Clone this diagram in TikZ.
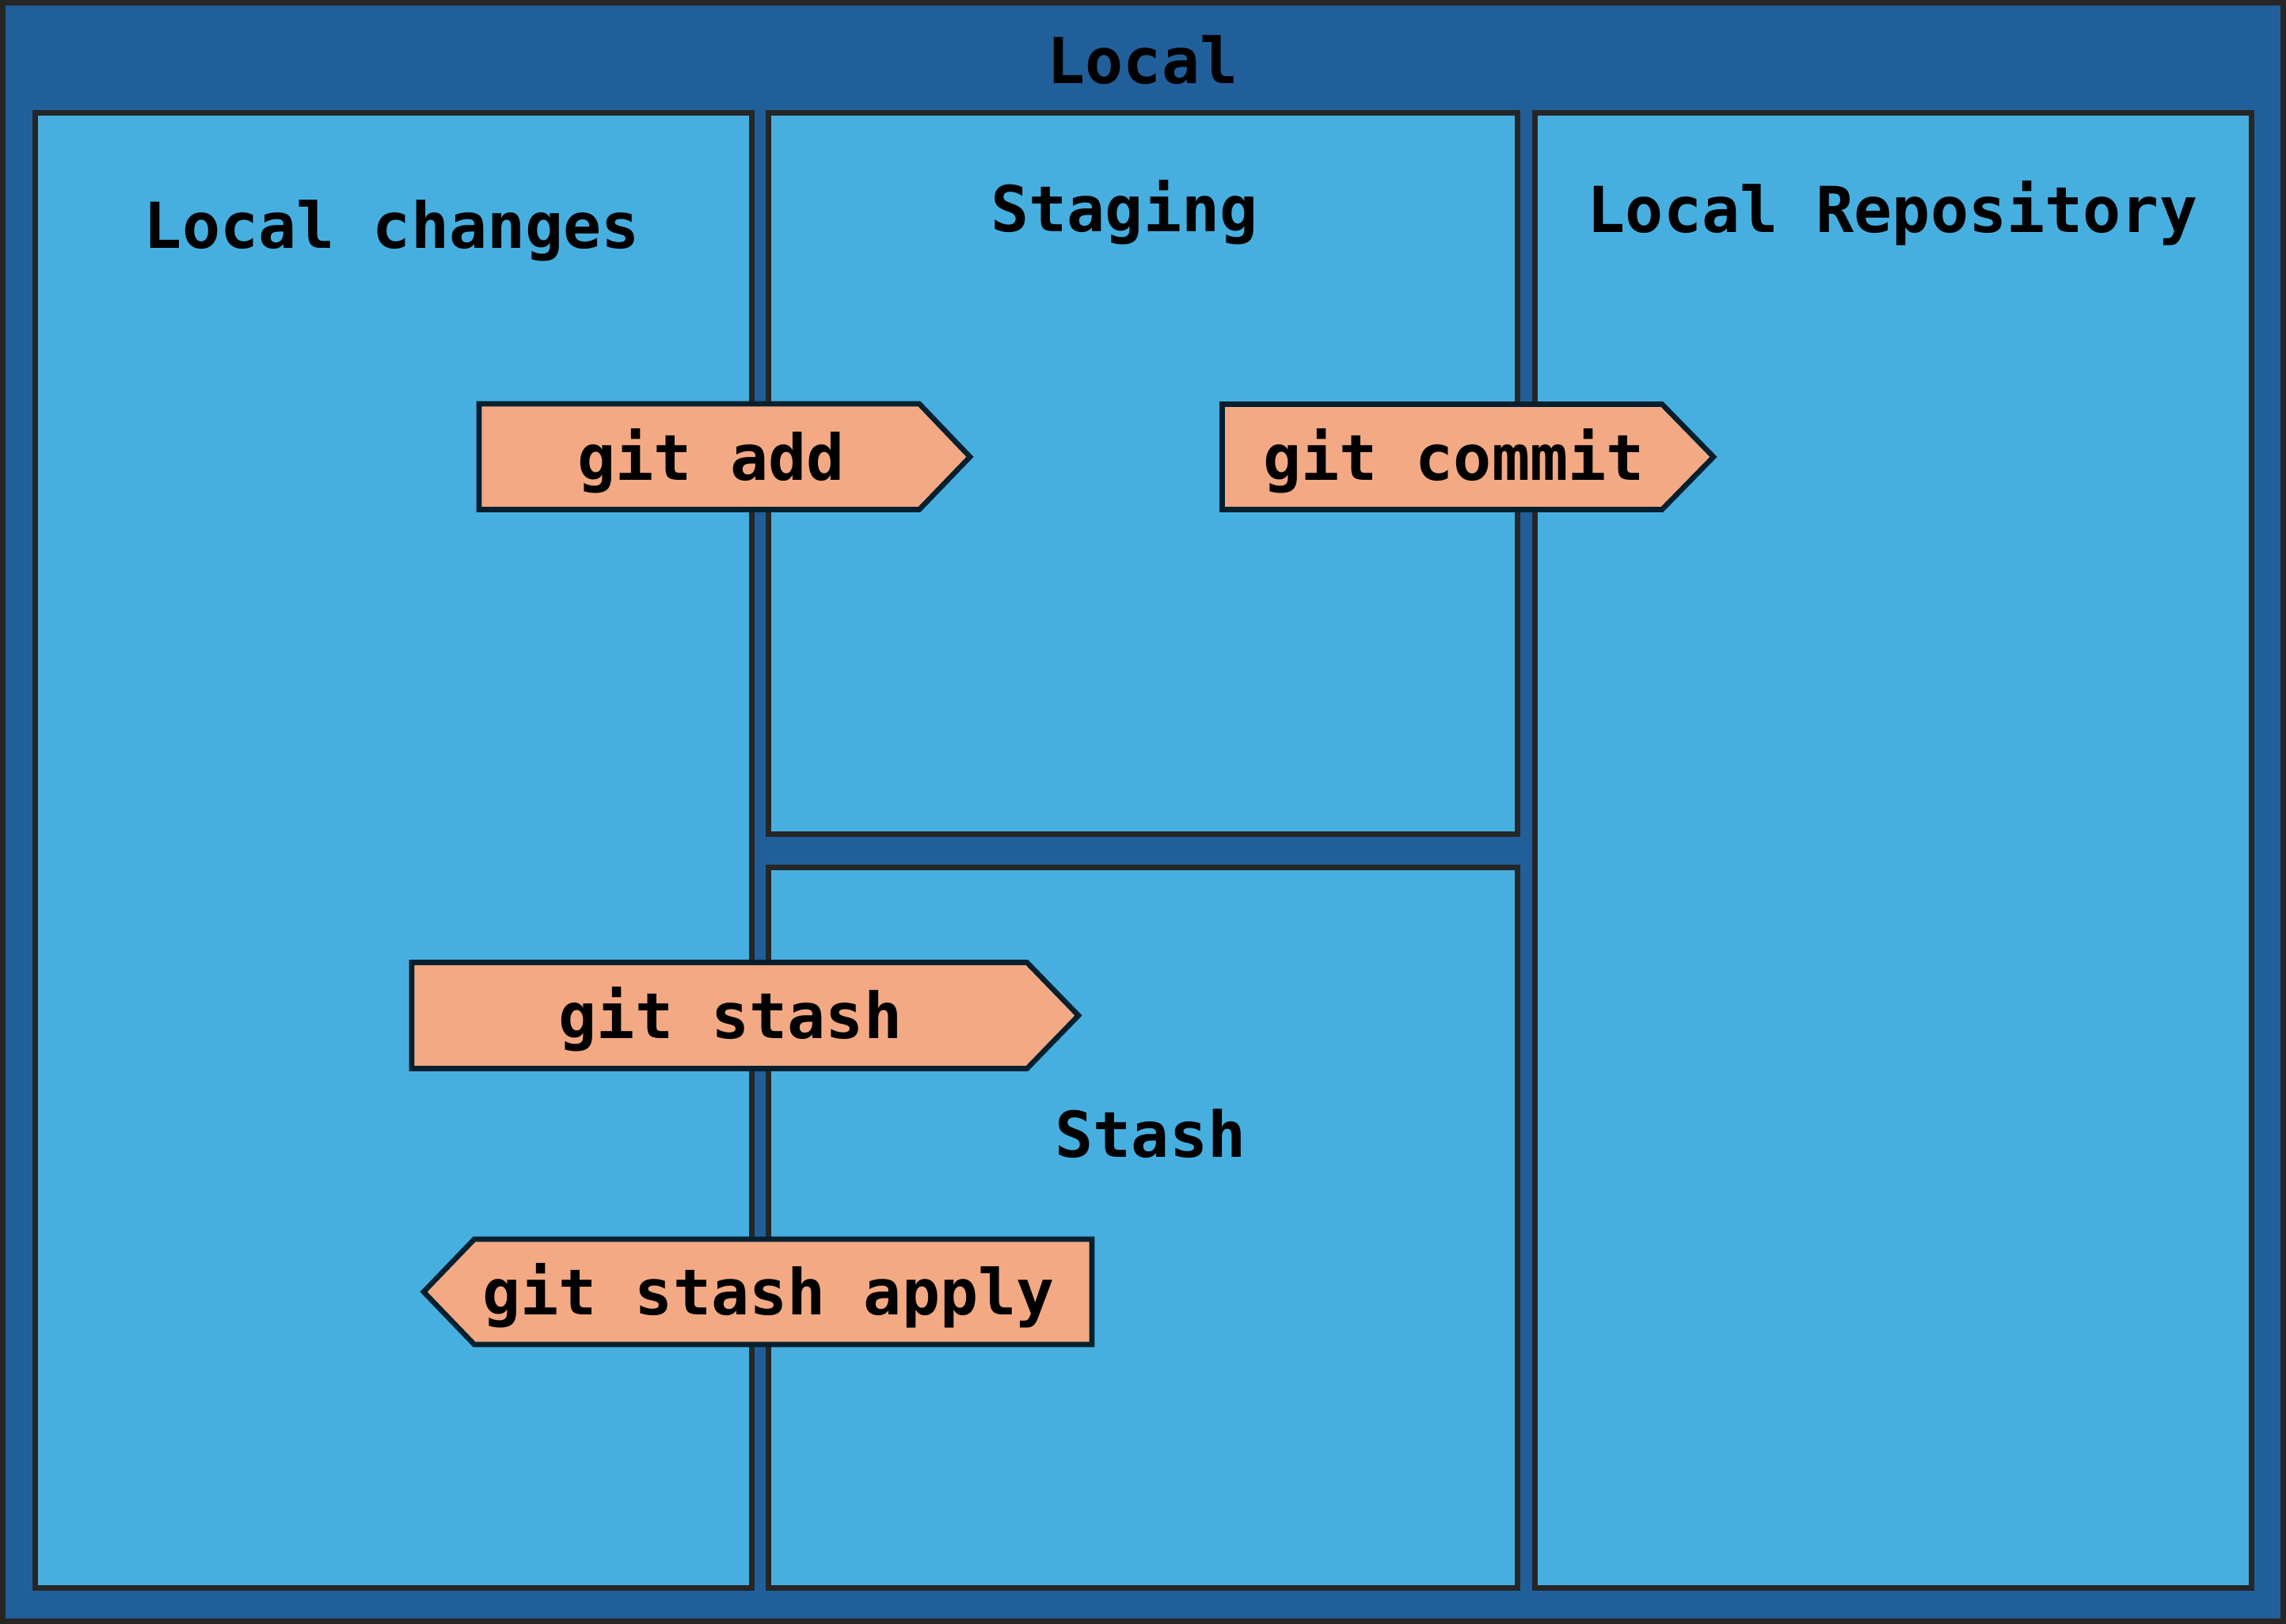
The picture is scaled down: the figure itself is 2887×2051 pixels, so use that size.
\documentclass[tikz,border=0pt]{standalone}
\usepackage{fontspec}
\setmonofont{DejaVu Sans Mono}
\definecolor{outerblue}{HTML}{215F9B}
\definecolor{innerblue}{HTML}{47AFE0}
\definecolor{frame}{HTML}{262626}
\definecolor{arrowfill}{HTML}{F2A984}
\definecolor{arrowline}{HTML}{04202F}
\begin{document}
\begin{tikzpicture}[x=0.5pt,y=-0.5pt,
  outerbox/.style={fill=outerblue,draw=frame,line width=3.5pt},
  areabox/.style={fill=innerblue,draw=frame,line width=3.5pt},
  cmdarrow/.style={fill=arrowfill,draw=arrowline,line width=3.3pt,line join=miter},
  lbl/.style={font=\fontsize{40}{48}\selectfont\ttfamily\bfseries,text=black,anchor=base,inner sep=0pt}]
\useasboundingbox (0,0) rectangle (2887,2051);
% outer frame
\draw[outerbox] (3.5,3.5) rectangle (2883.5,2047.5);
\node[lbl] (local) at (1443,105) {Local};
% areas
\draw[areabox] (44,142.5) rectangle (949,2005.5);
\draw[areabox] (970.5,142.5) rectangle (1916.5,1053.5);
\draw[areabox] (970.5,1095.5) rectangle (1916.5,2005.5);
\draw[areabox] (1938.5,142.5) rectangle (2843,2005.5);
\node[lbl] (lc) at (495,313) {Local changes};
\node[lbl] (stg) at (1420,292) {Staging};
\node[lbl] (lr) at (2390,293) {Local Repository};
\node[lbl] (sth) at (1453,1461) {Stash};
% command arrows
\draw[cmdarrow] (605,510) -- (1161,510) -- (1225,577) -- (1161,643.5) -- (605,643.5) -- cycle;
\node[lbl] (add) at (898,606) {git add};
\draw[cmdarrow] (1543.5,510.5) -- (2099,510.5) -- (2164,577) -- (2099,643.5) -- (1543.5,643.5) -- cycle;
\node[lbl] (commit) at (1836,606) {git commit};
\draw[cmdarrow] (520,1215.5) -- (1297,1215.5) -- (1362,1282.5) -- (1297,1349.5) -- (520,1349.5) -- cycle;
\node[lbl] (stash) at (922.5,1311.5) {git stash};
\draw[cmdarrow] (1379,1565) -- (599,1565) -- (535,1631.5) -- (599,1698) -- (1379,1698) -- cycle;
\node[lbl] (apply) at (970.5,1660) {git stash apply};
\end{tikzpicture}
\end{document}
